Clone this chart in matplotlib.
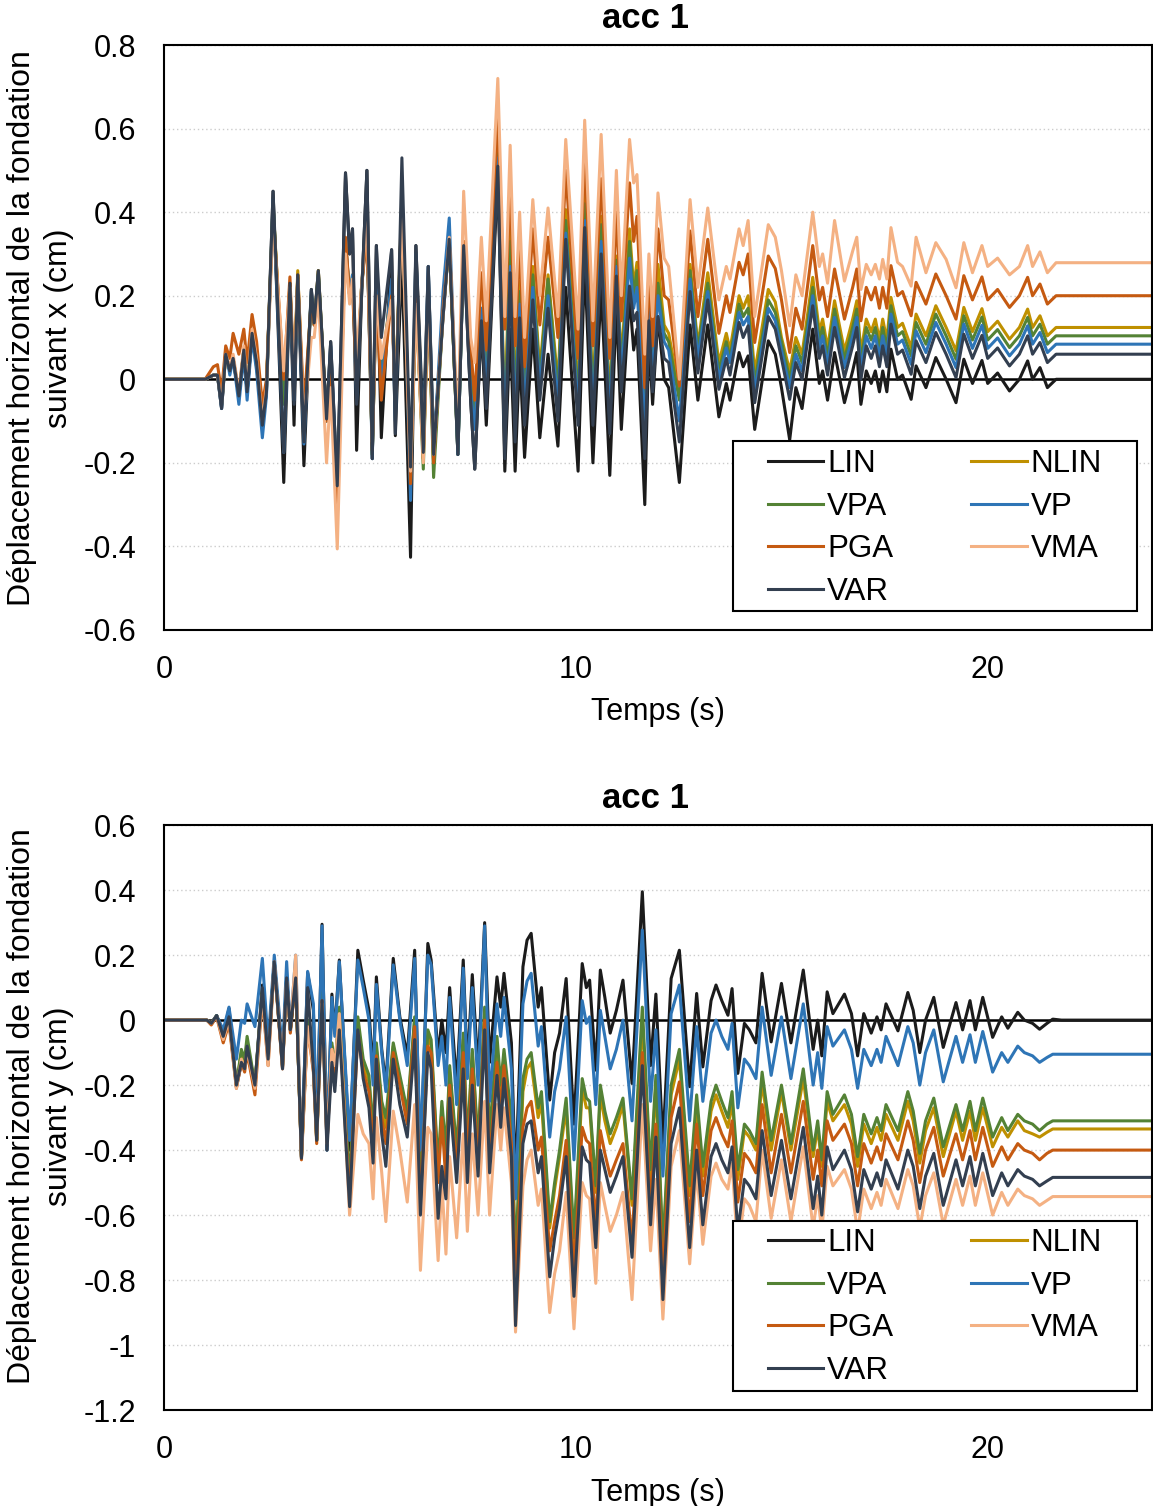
import matplotlib
matplotlib.use("Agg")
import matplotlib.pyplot as plt
from matplotlib.patches import Rectangle
from matplotlib.ticker import FuncFormatter, MultipleLocator

plt.rcParams['font.family'] = ['Liberation Sans', 'DejaVu Sans']

# ---------- acc 1, direction x ----------
t_x = [0, 1.0, 1.2, 1.3, 1.4, 1.5, 1.6, 1.68, 1.82, 1.94,
       2.02, 2.14, 2.25, 2.39, 2.49, 2.65, 2.91, 3.06, 3.16, 3.25,
       3.4, 3.58, 3.65, 3.75, 3.95, 4.05, 4.21, 4.41, 4.51, 4.58,
       4.68, 4.8, 4.93, 5.06, 5.16, 5.28, 5.53, 5.62, 5.78, 5.99,
       6.12, 6.3, 6.42, 6.55, 6.78, 6.93, 7.14, 7.28, 7.45, 7.55,
       7.71, 7.83, 8.11, 8.28, 8.41, 8.53, 8.64, 8.76, 8.96, 9.13,
       9.33, 9.57, 9.76, 10.06, 10.22, 10.42, 10.62, 10.83, 10.99, 11.11,
       11.31, 11.41, 11.49, 11.68, 11.78, 11.87, 12.0, 12.15, 12.26, 12.52,
       12.78, 12.97, 13.21, 13.48, 13.66, 13.75, 13.97, 14.07, 14.19, 14.35,
       14.68, 14.85, 15.0, 15.2, 15.35, 15.5, 15.76, 15.92, 16.0, 16.12,
       16.29, 16.53, 16.73, 16.83, 16.93, 17.06, 17.18, 17.28, 17.38, 17.46,
       17.56, 17.66, 17.82, 17.94, 18.15, 18.27, 18.51, 18.75, 19.0, 19.24,
       19.43, 19.64, 19.87, 20.01, 20.25, 20.54, 20.78, 20.98, 21.1, 21.28,
       21.46, 21.67, 24.0]

x_lin = [0, 0, 0.01, 0.01, -0.07, 0.06, 0.02, 0.05, -0.04, 0.07,
         -0.03, 0.11, 0.04, -0.11, -0.03, 0.45, -0.247, 0.23, -0.11, 0.25,
         -0.207, 0.215, 0.135, 0.26, -0.095, 0.09, -0.255, 0.494, 0.30, 0.36,
         -0.17, 0.2, 0.50, -0.19, 0.32, -0.14, 0.31, -0.135, 0.287, -0.426,
         0.32, -0.12, 0.27, -0.16, 0.15, 0.335, -0.18, 0.32, -0.05, -0.215,
         0.13, -0.11, 0.49, -0.22, 0.12, -0.22, 0.06, -0.187, 0.12, -0.14,
         0.06, -0.16, 0.22, -0.22, 0.28, -0.2, 0.22, -0.23, 0.18, -0.12,
         0.2, 0.07, 0.12, -0.30, 0.1, -0.06, 0.15, 0.0, -0.02, -0.247,
         0.13, -0.05, 0.13, -0.09, -0.01, -0.05, 0.064, 0.03, 0.056, -0.12,
         0.092, 0.06, -0.02, -0.145, -0.02, -0.07, 0.12, -0.01, 0.02, -0.05,
         0.064, -0.056, 0.02, 0.064, -0.06, 0.02, -0.01, 0.02, -0.03, 0.02,
         -0.03, 0.072, 0.0, 0.01, -0.048, 0.032, -0.02, 0.052, 0.0, -0.056,
         0.048, -0.01, 0.045, -0.01, 0.015, -0.028, 0.0, 0.044, 0.0, 0.028,
         -0.02, 0.0, 0.0]

x_var = [0, 0, 0.01, 0.01, -0.07, 0.06, 0.02, 0.05, -0.04, 0.07,
         -0.03, 0.11, 0.04, -0.11, -0.03, 0.45, -0.175, 0.23, -0.06, 0.25,
         -0.15, 0.215, 0.135, 0.26, -0.095, 0.09, -0.255, 0.494, 0.30, 0.36,
         -0.06, 0.2, 0.50, -0.19, 0.32, 0.1, 0.31, -0.13, 0.53, -0.21,
         0.32, -0.175, 0.27, -0.18, 0.15, 0.335, -0.18, 0.32, -0.05, -0.215,
         0.14, -0.07, 0.51, -0.19, 0.255, -0.15, 0.147, -0.11, 0.19, -0.05,
         0.17, -0.1, 0.335, -0.11, 0.363, -0.11, 0.30, -0.13, 0.247, -0.03,
         0.223, 0.14, 0.16, -0.19, 0.14, -0.03, 0.15, 0.05, 0.04, -0.15,
         0.21, 0.015, 0.19, -0.024, 0.05, 0.01, 0.136, 0.1, 0.128, -0.056,
         0.15, 0.12, 0.05, -0.048, 0.04, 0.0, 0.176, 0.05, 0.08, 0.01,
         0.124, 0.004, 0.08, 0.124, 0.0, 0.08, 0.05, 0.08, 0.03, 0.08,
         0.03, 0.132, 0.06, 0.07, 0.012, 0.092, 0.04, 0.112, 0.06, 0.004,
         0.108, 0.05, 0.105, 0.05, 0.075, 0.032, 0.06, 0.104, 0.06, 0.088,
         0.04, 0.06, 0.06]

x_vp = [0, 0, 0.01, 0.01, -0.07, 0.07, 0.01, 0.05, -0.06, 0.06,
        -0.05, 0.1, 0.02, -0.14, -0.04, 0.43, -0.175, 0.22, -0.05, 0.24,
        -0.155, 0.21, 0.13, 0.25, -0.1, 0.08, -0.27, 0.33, 0.2, 0.25,
        -0.05, 0.22, 0.37, -0.19, 0.24, -0.02, 0.24, -0.1, 0.43, -0.29,
        0.3, -0.17, 0.27, -0.18, 0.21, 0.386, -0.18, 0.32, -0.03, -0.12,
        0.17, -0.03, 0.53, -0.15, 0.27, -0.1, 0.18, -0.07, 0.22, -0.02,
        0.2, -0.06, 0.35, -0.08, 0.38, -0.08, 0.33, -0.1, 0.27, 0.0,
        0.29, 0.17, 0.22, -0.12, 0.17, 0.0, 0.2, 0.09, 0.07, -0.1,
        0.24, 0.05, 0.21, 0.0, 0.075, 0.04, 0.16, 0.13, 0.15, -0.03,
        0.17, 0.14, 0.07, -0.02, 0.06, 0.02, 0.2, 0.074, 0.104, 0.034,
        0.148, 0.028, 0.104, 0.148, 0.024, 0.104, 0.074, 0.104, 0.054, 0.104,
        0.054, 0.156, 0.084, 0.094, 0.036, 0.116, 0.064, 0.136, 0.084, 0.028,
        0.132, 0.074, 0.129, 0.074, 0.099, 0.056, 0.084, 0.128, 0.084, 0.112,
        0.064, 0.084, 0.084]

x_vpa = [0, 0, 0.01, 0.01, -0.06, 0.06, 0.02, 0.05, -0.04, 0.07,
         -0.03, 0.11, 0.03, -0.1, -0.02, 0.42, -0.06, 0.22, -0.01, 0.24,
         -0.12, 0.2, 0.13, 0.25, -0.1, 0.05, -0.27, 0.32, 0.2, 0.24,
         -0.02, 0.22, 0.37, -0.18, 0.22, 0.0, 0.22, -0.05, 0.42, -0.25,
         0.2, -0.215, 0.2, -0.235, 0.16, 0.33, -0.18, 0.32, 0.0, -0.1,
         0.16, 0.0, 0.54, -0.13, 0.33, -0.06, 0.21, -0.04, 0.25, 0.0,
         0.24, -0.03, 0.38, -0.05, 0.42, -0.05, 0.37, -0.07, 0.285, 0.02,
         0.33, 0.2, 0.26, -0.07, 0.19, 0.02, 0.23, 0.11, 0.09, -0.05,
         0.26, 0.07, 0.23, 0.02, 0.09, 0.05, 0.18, 0.15, 0.17, -0.01,
         0.19, 0.16, 0.09, 0.0, 0.08, 0.04, 0.22, 0.094, 0.124, 0.054,
         0.168, 0.048, 0.124, 0.168, 0.044, 0.124, 0.094, 0.124, 0.074, 0.124,
         0.074, 0.176, 0.104, 0.114, 0.056, 0.136, 0.084, 0.156, 0.104, 0.048,
         0.152, 0.094, 0.149, 0.094, 0.119, 0.076, 0.104, 0.148, 0.104, 0.132,
         0.084, 0.104, 0.104]

x_nlin = [0, 0, 0.01, 0.01, -0.06, 0.06, 0.02, 0.05, -0.03, 0.07,
          -0.02, 0.11, 0.05, -0.1, -0.02, 0.42, -0.04, 0.23, 0.0, 0.26,
          -0.11, 0.2, 0.13, 0.26, -0.1, 0.05, -0.27, 0.33, 0.2, 0.25,
          0.0, 0.22, 0.38, -0.18, 0.22, 0.02, 0.22, -0.05, 0.44, -0.24,
          0.2, -0.19, 0.2, -0.2, 0.16, 0.33, -0.17, 0.33, 0.02, -0.06,
          0.17, 0.02, 0.56, -0.1, 0.37, -0.04, 0.235, -0.02, 0.27, 0.02,
          0.25, -0.01, 0.406, -0.03, 0.44, -0.03, 0.39, -0.05, 0.295, 0.04,
          0.36, 0.22, 0.28, -0.05, 0.2, 0.03, 0.275, 0.13, 0.11, -0.03,
          0.275, 0.08, 0.255, 0.04, 0.11, 0.07, 0.2, 0.17, 0.2, 0.016,
          0.215, 0.185, 0.1, 0.02, 0.1, 0.06, 0.244, 0.114, 0.144, 0.074,
          0.188, 0.068, 0.144, 0.188, 0.064, 0.144, 0.114, 0.144, 0.094, 0.144,
          0.094, 0.196, 0.124, 0.134, 0.076, 0.156, 0.104, 0.176, 0.124, 0.068,
          0.172, 0.114, 0.169, 0.114, 0.139, 0.096, 0.124, 0.168, 0.124, 0.152,
          0.104, 0.124, 0.124]

x_pga = [0, 0, 0.03, 0.035, -0.03, 0.08, 0.05, 0.11, 0.06, 0.12,
         0.04, 0.155, 0.09, -0.06, 0.0, 0.40, 0.0, 0.245, 0.0, 0.25,
         -0.07, 0.19, 0.13, 0.24, -0.1, 0.02, -0.335, 0.34, 0.2, 0.22,
         -0.02, 0.22, 0.35, -0.17, 0.2, -0.05, 0.2, -0.05, 0.42, -0.25,
         0.2, -0.19, 0.2, -0.2, 0.17, 0.33, -0.14, 0.33, 0.08, -0.05,
         0.255, 0.07, 0.637, 0.12, 0.47, 0.08, 0.33, 0.03, 0.36, 0.13,
         0.34, 0.1, 0.50, 0.05, 0.54, 0.08, 0.48, 0.05, 0.40, 0.14,
         0.47, 0.33, 0.39, -0.02, 0.26, 0.08, 0.36, 0.2, 0.19, -0.016,
         0.355, 0.15, 0.335, 0.11, 0.2, 0.16, 0.28, 0.25, 0.3, 0.088,
         0.295, 0.265, 0.19, 0.064, 0.17, 0.12, 0.32, 0.19, 0.22, 0.15,
         0.264, 0.144, 0.22, 0.264, 0.14, 0.22, 0.19, 0.22, 0.17, 0.22,
         0.17, 0.272, 0.2, 0.21, 0.152, 0.232, 0.18, 0.252, 0.2, 0.144,
         0.248, 0.19, 0.245, 0.19, 0.215, 0.172, 0.2, 0.244, 0.2, 0.228,
         0.18, 0.2, 0.2]

x_vma = [0, 0, 0.01, 0.01, -0.06, 0.06, 0.03, 0.06, -0.03, 0.08,
         -0.02, 0.12, 0.05, -0.1, -0.02, 0.38, 0.02, 0.22, 0.0, 0.24,
         -0.1, 0.1, 0.1, 0.2, -0.2, -0.02, -0.406, 0.30, 0.18, 0.24,
         0.05, 0.22, 0.40, -0.15, 0.2, 0.05, 0.19, -0.05, 0.40, -0.22,
         0.18, -0.2, 0.2, -0.18, 0.15, 0.34, -0.12, 0.45, 0.1, 0.04,
         0.34, 0.14, 0.72, 0.15, 0.56, 0.15, 0.40, 0.1, 0.43, 0.2,
         0.41, 0.15, 0.574, 0.12, 0.62, 0.14, 0.586, 0.1, 0.50, 0.2,
         0.574, 0.47, 0.49, 0.06, 0.3, 0.15, 0.446, 0.29, 0.27, 0.0,
         0.43, 0.22, 0.41, 0.19, 0.27, 0.24, 0.36, 0.32, 0.38, 0.15,
         0.37, 0.34, 0.26, 0.128, 0.25, 0.2, 0.4, 0.27, 0.30, 0.23,
         0.38, 0.235, 0.307, 0.34, 0.215, 0.275, 0.25, 0.275, 0.24, 0.287,
         0.24, 0.363, 0.28, 0.27, 0.223, 0.34, 0.255, 0.327, 0.287, 0.219,
         0.327, 0.255, 0.32, 0.27, 0.29, 0.25, 0.27, 0.32, 0.27, 0.305,
         0.255, 0.279, 0.279]

# ---------- acc 1, direction y ----------
t_y = [0, 1.04, 1.15, 1.28, 1.44, 1.58, 1.76, 1.88, 1.96, 2.02,
       2.21, 2.39, 2.53, 2.68, 2.88, 2.98, 3.07, 3.2, 3.34, 3.49,
       3.63, 3.71, 3.84, 3.96, 4.08, 4.15, 4.26, 4.51, 4.71, 4.84,
       4.98, 5.08, 5.16, 5.29, 5.39, 5.57, 5.73, 5.91, 6.09, 6.23,
       6.41, 6.49, 6.66, 6.75, 6.85, 6.94, 7.11, 7.27, 7.37, 7.49,
       7.63, 7.79, 7.91, 8.09, 8.18, 8.26, 8.44, 8.54, 8.72, 8.82,
       8.92, 9.09, 9.17, 9.37, 9.49, 9.61, 9.77, 9.96, 10.16, 10.26,
       10.34, 10.49, 10.6, 10.71, 10.84, 10.99, 11.15, 11.37, 11.62, 11.82,
       11.95, 12.12, 12.32, 12.52, 12.77, 12.94, 13.09, 13.29, 13.41, 13.55,
       13.7, 13.8, 13.94, 14.1, 14.22, 14.38, 14.53, 14.75, 15.0, 15.23,
       15.53, 15.77, 15.88, 15.98, 16.11, 16.25, 16.53, 16.70, 16.85, 17.0,
       17.18, 17.32, 17.42, 17.54, 17.83, 18.07, 18.2, 18.36, 18.5, 18.70,
       18.93, 19.24, 19.4, 19.58, 19.71, 19.89, 20.13, 20.35, 20.5, 20.74,
       20.9, 21.1, 21.27, 21.45, 21.59, 21.8, 24.0]

y_lin = [0, 0, -0.01, 0.014, -0.046, 0.036, -0.205, -0.134, -0.12, -0.085,
         -0.205, 0.108, -0.11, 0.18, -0.145, 0.13, -0.03, 0.135, -0.425, 0.146,
         0.03, -0.37, 0.295, -0.40, 0.08, -0.04, 0.185, -0.40, 0.215, 0.123,
         0.03, -0.17, 0.133, -0.09, -0.2, 0.19, 0.01, -0.11, 0.215, -0.45,
         0.236, 0.185, -0.11, 0.0, -0.1, 0.10, -0.2, 0.185, -0.15, 0.14,
         -0.15, 0.30, -0.13, 0.133, 0.04, 0.144, -0.07, -0.5, 0.164, 0.246,
         0.267, 0.04, 0.1, -0.246, -0.1, -0.04, 0.128, -0.32, 0.174, 0.10,
         0.123, -0.154, 0.154, 0.07, -0.04, 0.03, 0.123, -0.195, 0.395, -0.14,
         0.08, -0.38, 0.128, 0.215, -0.205, 0.082, -0.144, 0.06, 0.108, 0.06,
         0.015, 0.097, -0.164, -0.01, -0.03, -0.07, 0.144, -0.067, 0.113, -0.07,
         0.154, -0.09, 0.0, -0.11, 0.087, 0.02, 0.08, 0.02, -0.11, 0.02,
         -0.04, 0.01, -0.03, 0.05, -0.033, 0.085, 0.03, -0.1, 0.0, 0.07,
         -0.084, 0.054, -0.03, 0.06, -0.03, 0.07, -0.053, 0.01, -0.025, 0.024,
         0.0, -0.01, -0.028, -0.01, 0.003, 0, 0]

y_vp = [0, 0, -0.01, 0.014, -0.03, 0.04, -0.12, 0.0, -0.01, 0.05,
        -0.02, 0.19, -0.07, 0.2, -0.1, 0.18, -0.03, 0.2, -0.42, 0.15,
        0.05, -0.35, 0.29, -0.40, 0.07, -0.05, 0.18, -0.37, 0.185, 0.10,
        0.0, -0.2, 0.11, -0.1, -0.22, 0.17, 0.0, -0.14, 0.19, -0.40,
        0.2, 0.17, -0.14, -0.05, -0.2, 0.07, -0.26, 0.16, -0.18, 0.1,
        -0.2, 0.29, -0.25, 0.05, -0.05, 0.07, -0.15, -0.55, 0.05, 0.12,
        0.144, -0.08, -0.02, -0.36, -0.22, -0.15, 0.01, -0.43, 0.06, -0.01,
        0.01, -0.26, 0.03, -0.05, -0.15, -0.09, 0.0, -0.31, 0.277, -0.25,
        -0.03, -0.48, 0.02, 0.108, -0.31, -0.02, -0.25, -0.04, 0.0, -0.05,
        -0.09, -0.01, -0.27, -0.12, -0.14, -0.18, 0.04, -0.17, 0.01, -0.18,
        0.05, -0.2, -0.1, -0.21, -0.02, -0.08, -0.03, -0.09, -0.21, -0.09,
        -0.14, -0.09, -0.13, -0.05, -0.14, -0.02, -0.07, -0.2, -0.1, -0.03,
        -0.19, -0.05, -0.13, -0.045, -0.13, -0.035, -0.16, -0.1, -0.13, -0.08,
        -0.1, -0.11, -0.13, -0.115, -0.105, -0.105, -0.105]

y_vpa = [0, 0, -0.01, 0.014, -0.05, 0.0, -0.2, -0.09, -0.12, -0.05,
         -0.2, 0.09, -0.1, 0.18, -0.14, 0.13, -0.03, 0.13, -0.42, 0.0,
         -0.13, -0.37, 0.1, -0.36, -0.07, -0.15, 0.04, -0.50, 0.01, -0.12,
         -0.17, -0.35, -0.07, -0.25, -0.3, -0.07, -0.17, -0.28, 0.01, -0.52,
         -0.03, -0.06, -0.45, -0.25, -0.4, -0.14, -0.4, -0.04, -0.38, -0.09,
         -0.38, 0.04, -0.35, -0.05, -0.2, -0.09, -0.3, -0.74, -0.18, -0.12,
         -0.1, -0.27, -0.22, -0.62, -0.5, -0.4, -0.24, -0.67, -0.18, -0.24,
         -0.25, -0.51, -0.2, -0.28, -0.35, -0.3, -0.24, -0.55, 0.04, -0.46,
         -0.17, -0.70, -0.2, -0.09, -0.51, -0.23, -0.45, -0.25, -0.2, -0.25,
         -0.3, -0.22, -0.46, -0.32, -0.34, -0.38, -0.16, -0.37, -0.2, -0.38,
         -0.15, -0.4, -0.31, -0.43, -0.22, -0.29, -0.23, -0.29, -0.42, -0.29,
         -0.35, -0.3, -0.34, -0.26, -0.34, -0.22, -0.28, -0.41, -0.31, -0.24,
         -0.39, -0.26, -0.34, -0.25, -0.34, -0.24, -0.36, -0.3, -0.34, -0.29,
         -0.31, -0.32, -0.34, -0.32, -0.31, -0.31, -0.31]

y_nlin = [0, 0, -0.01, 0.014, -0.05, 0.0, -0.2, -0.1, -0.13, -0.07,
          -0.2, 0.08, -0.11, 0.18, -0.14, 0.13, -0.03, 0.13, -0.42, -0.01,
          -0.14, -0.37, 0.08, -0.37, -0.08, -0.17, 0.02, -0.53, -0.01, -0.14,
          -0.19, -0.37, -0.09, -0.27, -0.33, -0.08, -0.19, -0.3, 0.0, -0.55,
          -0.05, -0.08, -0.47, -0.27, -0.45, -0.16, -0.42, -0.06, -0.4, -0.1,
          -0.40, 0.03, -0.38, -0.09, -0.23, -0.11, -0.33, -0.77, -0.22, -0.15,
          -0.13, -0.3, -0.25, -0.64, -0.52, -0.42, -0.27, -0.70, -0.21, -0.27,
          -0.27, -0.53, -0.23, -0.31, -0.38, -0.33, -0.26, -0.57, 0.0, -0.49,
          -0.2, -0.72, -0.23, -0.12, -0.54, -0.26, -0.48, -0.28, -0.23, -0.28,
          -0.33, -0.25, -0.49, -0.34, -0.36, -0.4, -0.19, -0.4, -0.22, -0.4,
          -0.18, -0.42, -0.33, -0.45, -0.25, -0.31, -0.26, -0.32, -0.45, -0.32,
          -0.38, -0.33, -0.37, -0.29, -0.37, -0.25, -0.31, -0.44, -0.34, -0.27,
          -0.42, -0.28, -0.37, -0.28, -0.37, -0.27, -0.39, -0.33, -0.36, -0.31,
          -0.34, -0.35, -0.36, -0.345, -0.335, -0.335, -0.335]

y_pga = [0, 0, -0.015, 0.01, -0.07, -0.01, -0.21, -0.13, -0.16, -0.1,
         -0.23, 0.07, -0.14, 0.17, -0.15, 0.12, -0.04, 0.13, -0.43, -0.02,
         -0.16, -0.38, 0.06, -0.38, -0.09, -0.19, 0.0, -0.55, -0.04, -0.16,
         -0.22, -0.40, -0.11, -0.3, -0.38, -0.1, -0.2, -0.32, -0.02, -0.58,
         -0.08, -0.1, -0.5, -0.3, -0.5, -0.2, -0.46, -0.1, -0.43, -0.15,
         -0.44, 0.0, -0.44, -0.13, -0.28, -0.14, -0.38, -0.82, -0.33, -0.27,
         -0.25, -0.4, -0.36, -0.71, -0.62, -0.54, -0.37, -0.77, -0.33, -0.37,
         -0.38, -0.63, -0.34, -0.41, -0.48, -0.43, -0.38, -0.68, -0.1, -0.57,
         -0.32, -0.79, -0.3, -0.19, -0.62, -0.32, -0.54, -0.34, -0.3, -0.35,
         -0.39, -0.31, -0.56, -0.41, -0.43, -0.47, -0.26, -0.47, -0.29, -0.47,
         -0.25, -0.49, -0.4, -0.51, -0.31, -0.37, -0.32, -0.38, -0.51, -0.38,
         -0.44, -0.39, -0.43, -0.35, -0.43, -0.31, -0.37, -0.5, -0.4, -0.33,
         -0.48, -0.35, -0.43, -0.34, -0.43, -0.33, -0.45, -0.39, -0.43, -0.38,
         -0.4, -0.41, -0.43, -0.41, -0.40, -0.40, -0.40]

y_var = [0, 0, -0.01, 0.014, -0.05, 0.01, -0.2, -0.13, -0.15, -0.08,
         -0.2, 0.1, -0.12, 0.18, -0.15, 0.13, -0.03, 0.13, -0.425, 0.1,
         -0.15, -0.37, 0.06, -0.40, -0.13, -0.22, -0.03, -0.574, -0.03, -0.18,
         -0.27, -0.44, -0.12, -0.35, -0.45, -0.12, -0.26, -0.36, -0.06, -0.60,
         -0.1, -0.15, -0.61, -0.45, -0.55, -0.24, -0.5, -0.15, -0.5, -0.2,
         -0.48, -0.03, -0.47, -0.17, -0.33, -0.18, -0.42, -0.94, -0.38, -0.32,
         -0.31, -0.47, -0.42, -0.79, -0.67, -0.58, -0.42, -0.85, -0.39, -0.43,
         -0.44, -0.70, -0.4, -0.46, -0.53, -0.48, -0.42, -0.73, -0.14, -0.63,
         -0.36, -0.86, -0.38, -0.27, -0.70, -0.4, -0.63, -0.42, -0.38, -0.43,
         -0.47, -0.39, -0.65, -0.49, -0.51, -0.55, -0.34, -0.54, -0.37, -0.55,
         -0.33, -0.58, -0.48, -0.6, -0.39, -0.46, -0.40, -0.46, -0.59, -0.46,
         -0.52, -0.47, -0.51, -0.43, -0.52, -0.4, -0.45, -0.58, -0.48, -0.41,
         -0.57, -0.43, -0.51, -0.42, -0.51, -0.41, -0.54, -0.47, -0.51, -0.46,
         -0.48, -0.49, -0.51, -0.495, -0.484, -0.484, -0.484]

y_vma = [0, 0, -0.01, 0.012, -0.06, 0.0, -0.21, -0.12, -0.15, -0.09,
         -0.21, 0.08, -0.14, 0.18, -0.15, 0.12, -0.03, 0.2, -0.42, -0.02,
         -0.15, -0.36, 0.05, -0.38, -0.09, -0.14, 0.02, -0.60, -0.29, -0.35,
         -0.38, -0.55, -0.30, -0.47, -0.62, -0.28, -0.4, -0.56, -0.26, -0.77,
         -0.33, -0.35, -0.74, -0.5, -0.72, -0.42, -0.67, -0.35, -0.65, -0.35,
         -0.6, -0.25, -0.6, -0.26, -0.4, -0.27, -0.5, -0.96, -0.51, -0.43,
         -0.40, -0.57, -0.52, -0.9, -0.78, -0.71, -0.53, -0.95, -0.5, -0.54,
         -0.55, -0.81, -0.5, -0.57, -0.65, -0.6, -0.53, -0.86, -0.26, -0.71,
         -0.49, -0.92, -0.45, -0.34, -0.75, -0.46, -0.69, -0.48, -0.44, -0.49,
         -0.52, -0.44, -0.71, -0.55, -0.57, -0.62, -0.4, -0.61, -0.43, -0.62,
         -0.39, -0.64, -0.54, -0.65, -0.45, -0.51, -0.46, -0.52, -0.65, -0.52,
         -0.58, -0.53, -0.57, -0.49, -0.58, -0.46, -0.51, -0.64, -0.54, -0.47,
         -0.63, -0.49, -0.57, -0.48, -0.57, -0.47, -0.6, -0.53, -0.57, -0.52,
         -0.54, -0.55, -0.57, -0.555, -0.543, -0.543, -0.543]

names = ["LIN", "NLIN", "VPA", "VP", "PGA", "VMA", "VAR"]
colors = {"LIN": "#1b1b1b", "NLIN": "#bf9000", "VPA": "#548235", "VP": "#2e75b6",
          "PGA": "#c55a11", "VMA": "#f4b183", "VAR": "#333f50"}

series_x = {"LIN": x_lin, "NLIN": x_nlin, "VPA": x_vpa, "VP": x_vp,
            "PGA": x_pga, "VMA": x_vma, "VAR": x_var}
series_y = {"LIN": y_lin, "NLIN": y_nlin, "VPA": y_vpa, "VP": y_vp,
            "PGA": y_pga, "VMA": y_vma, "VAR": y_var}

fig = plt.figure(figsize=(11.53, 15.06), dpi=100)
ax1 = fig.add_axes([0.1422, 0.5817, 0.8569, 0.3884])
ax2 = fig.add_axes([0.1422, 0.0637, 0.8569, 0.3884])


def fmt(v, pos):
    return f"{round(v, 1) + 0:g}"


def draw(ax, t, series, ylim, leg_top):
    for g in [v / 10 for v in range(int(ylim[0] * 10), int(ylim[1] * 10) + 1, 2)]:
        if abs(g) > 1e-9:
            ax.axhline(g, color="#cccccc", lw=1.0, ls=(0, (1, 2)), zorder=0)
    ax.axhline(0, color="black", lw=1.8, zorder=1)
    lines = {}
    for n in names:
        lines[n], = ax.plot(t, series[n], color=colors[n], lw=2.2, label=n,
                            zorder=2, solid_joinstyle="round")
    ax.set_xlim(0, 24)
    ax.set_ylim(*ylim)
    ax.xaxis.set_major_locator(MultipleLocator(10))
    ax.yaxis.set_major_locator(MultipleLocator(0.2))
    ax.yaxis.set_major_formatter(FuncFormatter(fmt))
    ax.tick_params(length=0, labelsize=22)
    ax.tick_params(axis="x", pad=18)
    ax.tick_params(axis="y", pad=20)
    for s in ax.spines.values():
        s.set_linewidth(1.5)
        s.set_color("black")
    ax.set_xlabel("Temps (s)", fontsize=22, labelpad=9)
    ax.set_title("acc 1", fontsize=25, fontweight="bold", pad=12, x=0.487)

    box = Rectangle((0.576, 0.033), 0.409, 0.290, transform=ax.transAxes,
                    facecolor="white", edgecolor="black", lw=1.5, zorder=4)
    ax.add_patch(box)
    order = ["LIN", "VPA", "PGA", "VAR", "NLIN", "VP", "VMA"]
    ax.legend([lines[n] for n in order], order, ncol=2, frameon=False,
              loc="upper left", bbox_to_anchor=(0.611, leg_top),
              fontsize=22.5, handlelength=1.78, handletextpad=0.12,
              columnspacing=2.5, labelspacing=0.4, borderpad=0,
              borderaxespad=0)
    return ax


draw(ax1, t_x, series_x, (-0.6, 0.8), 0.309)
draw(ax2, t_y, series_y, (-1.2, 0.6), 0.311)

fig.text(0.035, 0.782, "Déplacement horizontal de la fondation\nsuivant x (cm)",
         rotation=90, ha="center", va="center", multialignment="center",
         fontsize=23, linespacing=1.3)
fig.text(0.035, 0.2656, "Déplacement horizontal de la fondation\nsuivant y (cm)",
         rotation=90, ha="center", va="center", multialignment="center",
         fontsize=23, linespacing=1.3)

fig.savefig("out.png", dpi=100)
